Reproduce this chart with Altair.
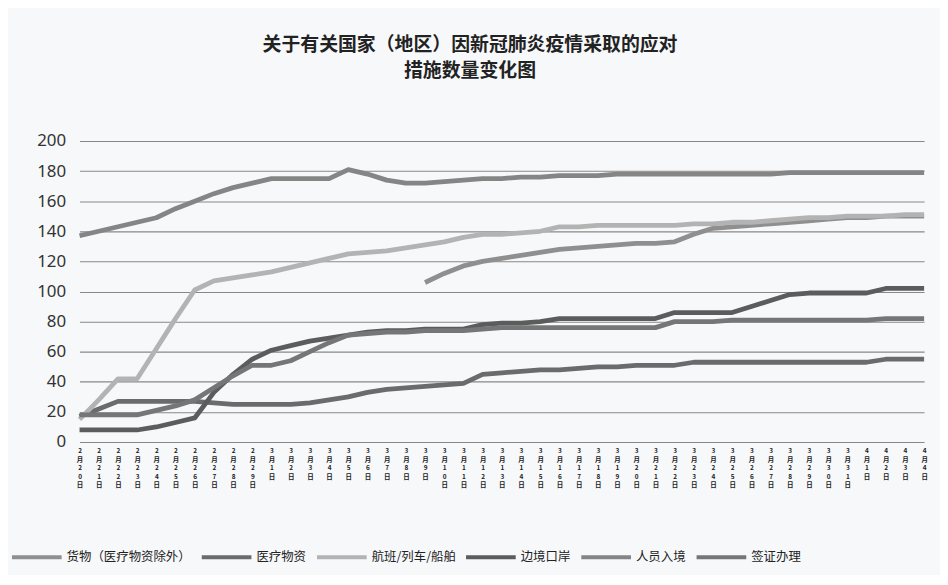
import altair as alt
import pandas as pd

dates = ["2月20日", "2月21日", "2月22日", "2月23日", "2月24日", "2月25日", "2月26日", "2月27日", "2月28日", "2月29日",
         "3月1日", "3月2日", "3月3日", "3月4日", "3月5日", "3月6日", "3月7日", "3月8日", "3月9日", "3月10日",
         "3月11日", "3月12日", "3月13日", "3月14日", "3月15日", "3月16日", "3月17日", "3月18日", "3月19日", "3月20日",
         "3月21日", "3月22日", "3月23日", "3月24日", "3月25日", "3月26日", "3月27日", "3月28日", "3月29日", "3月30日",
         "3月31日", "4月1日", "4月2日", "4月3日", "4月4日"]

series_names = ["货物（医疗物资除外）", "医疗物资", "航班/列车/船舶", "边境口岸", "人员入境", "签证办理"]
colors = ["#8f8f8f", "#6b6b6b", "#b3b3b3", "#5c5c5c", "#858585", "#767676"]

cargo = [None, None, None, None, None, None, None, None, None, None,
         None, None, None, None, None, None, None, None,
         106, 112, 117, 120, 122, 124, 126, 128, 129, 130, 131, 132, 132, 133, 138, 142, 143, 144, 145, 146, 147, 148,
         149, 149, 150, 150, 150]
medical = [17, 22, 27, 27, 27, 27, 27, 26, 25, 25, 25, 25, 26, 28, 30, 33, 35, 36, 37, 38, 39, 45, 46, 47, 48, 48,
           49, 50, 50, 51, 51, 51, 53, 53, 53, 53, 53, 53, 53, 53, 53, 53, 55, 55, 55]
flights = [15, 28, 42, 42, 62, 82, 101, 107, 109, 111, 113, 116, 119, 122, 125, 126, 127, 129, 131, 133, 136, 138,
           138, 139, 140, 143, 143, 144, 144, 144, 144, 144, 145, 145, 146, 146, 147, 148, 149, 149, 150, 150, 150,
           151, 151]
border = [8, 8, 8, 8, 10, 13, 16, 33, 45, 55, 61, 64, 67, 69, 71, 73, 74, 74, 75, 75, 75, 78, 79, 79, 80, 82, 82,
          82, 82, 82, 82, 86, 86, 86, 86, 90, 94, 98, 99, 99, 99, 99, 102, 102, 102]
entry = [137, 140, 143, 146, 149, 155, 160, 165, 169, 172, 175, 175, 175, 175, 181, 178, 174, 172, 172, 173, 174,
         175, 175, 176, 176, 177, 177, 177, 178, 178, 178, 178, 178, 178, 178, 178, 178, 179, 179, 179, 179, 179,
         179, 179, 179]
visa = [18, 18, 18, 18, 21, 24, 28, 36, 44, 51, 51, 54, 60, 66, 71, 72, 73, 73, 74, 74, 74, 75, 76, 76, 76, 76, 76,
        76, 76, 76, 76, 80, 80, 80, 81, 81, 81, 81, 81, 81, 81, 81, 82, 82, 82]

rows = []
for name, vals in zip(series_names, [cargo, medical, flights, border, entry, visa]):
    for d, v in zip(dates, vals):
        if v is not None:
            rows.append({"日期": d, "类别": name, "数量": v})
df = pd.DataFrame(rows)

CJK = "Noto Sans CJK SC"

chart = alt.Chart(df).mark_line(strokeWidth=4.8, strokeJoin="round").encode(
    x=alt.X("日期:O", sort=dates, scale=alt.Scale(padding=0),
            axis=alt.Axis(title=None, labelAngle=0, labelExpr="split(datum.label, '')",
                          labelFont=CJK, labelFontSize=6.5, labelLineHeight=8.5, labelColor="#222",
                          labelFontWeight="bold", labelBaseline="top", labelOverlap=False,
                          ticks=False, domain=False, labelPadding=6, grid=False)),
    y=alt.Y("数量:Q", scale=alt.Scale(domain=[0, 200]),
            axis=alt.Axis(title=None, values=list(range(0, 201, 20)), domain=False, ticks=False,
                          labelFont="Noto Sans", labelFontSize=17, labelColor="#333", labelPadding=14,
                          gridColor="#888888", gridWidth=1.1)),
    color=alt.Color("类别:N", scale=alt.Scale(domain=series_names, range=colors),
                    legend=alt.Legend(title=None, orient="none", legendX=-70, legendY=392,
                                      direction="horizontal", symbolType="stroke", symbolSize=2500,
                                      symbolStrokeWidth=4, labelFont=CJK, labelFontSize=12.5,
                                      labelColor="#222", columnPadding=2, labelOffset=3, labelLimit=250)),
).properties(
    width=850,
    height=303,
    title=alt.TitleParams(text=["关于有关国家（地区）因新冠肺炎疫情采取的应对", "措施数量变化图"],
                          font=CJK, fontSize=19, fontWeight="bold", color="#222", lineHeight=27,
                          offset=51, dx=-32, anchor="middle"),
    autosize=alt.AutoSizeParams(type="none"),
    padding={"left": 72, "top": 132, "right": 16, "bottom": 132},
    background="#f7f8fa",
).configure_view(stroke=None)

chart.save("out.html", embed_options={"renderer": "svg", "actions": False})
